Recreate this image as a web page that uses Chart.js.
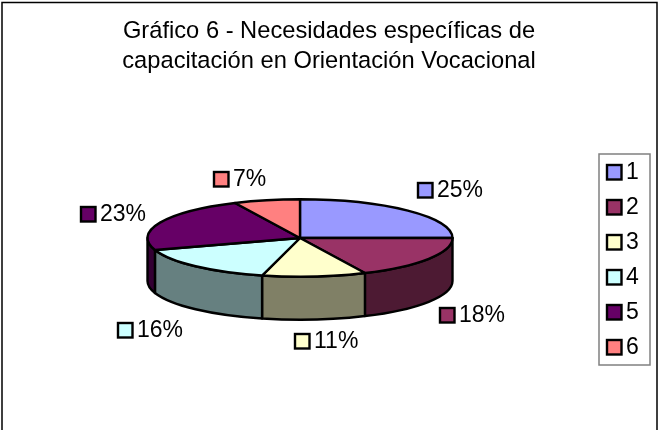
<!DOCTYPE html>
<html>
<head>
<meta charset="utf-8">
<style>
  html, body { margin: 0; padding: 0; background: #fff; }
  canvas { display: block; }
</style>
<script src="https://cdn.jsdelivr.net/npm/chart.js@4"></script>
</head>
<body>
<canvas id="pieChart" width="658" height="430"></canvas>
<script>
const titleLines = ['Gráfico 6 - Necesidades específicas de', 'capacitación en Orientación Vocacional'];
const categories = ['1', '2', '3', '4', '5', '6'];
const values = [25, 18, 11, 16, 23, 7];
const topColors = ['#9999FF', '#993366', '#FFFFCC', '#CCFFFF', '#660066', '#FF8080'];
const sideColors = ['#4D4D80', '#4D1A33', '#808066', '#668080', '#330033', '#804040'];

// where each percent label goes (left edge of its little square, text middle)
const labelX = [417, 439, 294, 117, 80, 213];
const labelY = [190, 315, 341, 330, 214, 179];

const pieBox = { left: 146.5, top: 84.5, right: 453.5, bottom: 391.5 };
const squash = 39 / 153.5;
const depth = 43;
const fontName = '"Liberation Sans", Arial, sans-serif';

function drawSwatch(ctx, x, y, color) {
    ctx.fillStyle = color;
    ctx.strokeStyle = '#000';
    ctx.lineWidth = 2.4;
    ctx.fillRect(x + 1, y - 7, 14.5, 14.5);
    ctx.strokeRect(x + 1, y - 7, 14.5, 14.5);
}

const pie3d = {
    id: 'pie3d',
    afterLayout(chart) {
        chart.chartArea = {
            left: pieBox.left, top: pieBox.top, right: pieBox.right, bottom: pieBox.bottom,
            width: pieBox.right - pieBox.left, height: pieBox.bottom - pieBox.top
        };
    },
    beforeDatasetsDraw(chart) {
        const ctx = chart.ctx;
        const arcs = chart.getDatasetMeta(0).data;
        ctx.save();
        ctx.strokeStyle = '#000';
        ctx.lineWidth = 2.4;
        ctx.lineJoin = 'round';

        // walls first, only the front half shows
        arcs.forEach(function(arc, i) {
            const a1 = Math.max(arc.startAngle, 0);
            const a2 = Math.min(arc.endAngle, Math.PI);
            if (a2 <= a1) return;
            const rx = arc.outerRadius, ry = rx * squash;
            ctx.beginPath();
            ctx.ellipse(arc.x, arc.y, rx, ry, 0, a1, a2);
            ctx.ellipse(arc.x, arc.y + depth, rx, ry, 0, a2, a1, true);
            ctx.closePath();
            ctx.fillStyle = sideColors[i];
            ctx.fill();
            ctx.stroke();
        });

        arcs.forEach(function(arc, i) {
            const rx = arc.outerRadius, ry = rx * squash;
            ctx.beginPath();
            ctx.moveTo(arc.x, arc.y);
            ctx.ellipse(arc.x, arc.y, rx, ry, 0, arc.startAngle, arc.endAngle);
            ctx.closePath();
            ctx.fillStyle = arc.options.backgroundColor;
            ctx.fill();
            ctx.stroke();
        });
        ctx.restore();
        return false;
    },
    afterDraw(chart) {
        const ctx = chart.ctx;
        ctx.save();
        ctx.font = '23px ' + fontName;
        ctx.textBaseline = 'middle';

        // percent labels
        values.forEach(function(v, i) {
            drawSwatch(ctx, labelX[i], labelY[i], topColors[i]);
            ctx.fillStyle = '#000';
            ctx.fillText(v + '%', labelX[i] + 20, labelY[i] + 1);
        });

        // legend
        ctx.strokeStyle = '#808080';
        ctx.lineWidth = 1.5;
        ctx.strokeRect(599, 154, 51, 211);
        categories.forEach(function(c, i) {
            const y = 172 + i * 35;
            drawSwatch(ctx, 606, y, topColors[i]);
            ctx.fillStyle = '#000';
            ctx.fillText(c, 626, y + 1);
        });

        // outer chart frame, open at the bottom
        ctx.beginPath();
        ctx.moveTo(2, 430);
        ctx.lineTo(2, 2.5);
        ctx.lineTo(657, 2.5);
        ctx.lineTo(657, 430);
        ctx.strokeStyle = '#000';
        ctx.lineWidth = 1.5;
        ctx.stroke();
        ctx.restore();
    }
};

new Chart(document.getElementById('pieChart'), {
    type: 'pie',
    data: {
        labels: categories,
        datasets: [{
            data: values,
            backgroundColor: topColors,
            borderColor: '#000',
            borderWidth: 2
        }]
    },
    options: {
        responsive: false,
        animation: false,
        layout: { padding: { top: 17 } },
        plugins: {
            title: {
                display: true,
                text: titleLines,
                color: '#000',
                font: { family: fontName, size: 23.7, weight: 'normal', lineHeight: 1.26 },
                padding: 0
            },
            legend: { display: false },
            tooltip: { enabled: false }
        }
    },
    plugins: [pie3d]
});
</script>
</body>
</html>
